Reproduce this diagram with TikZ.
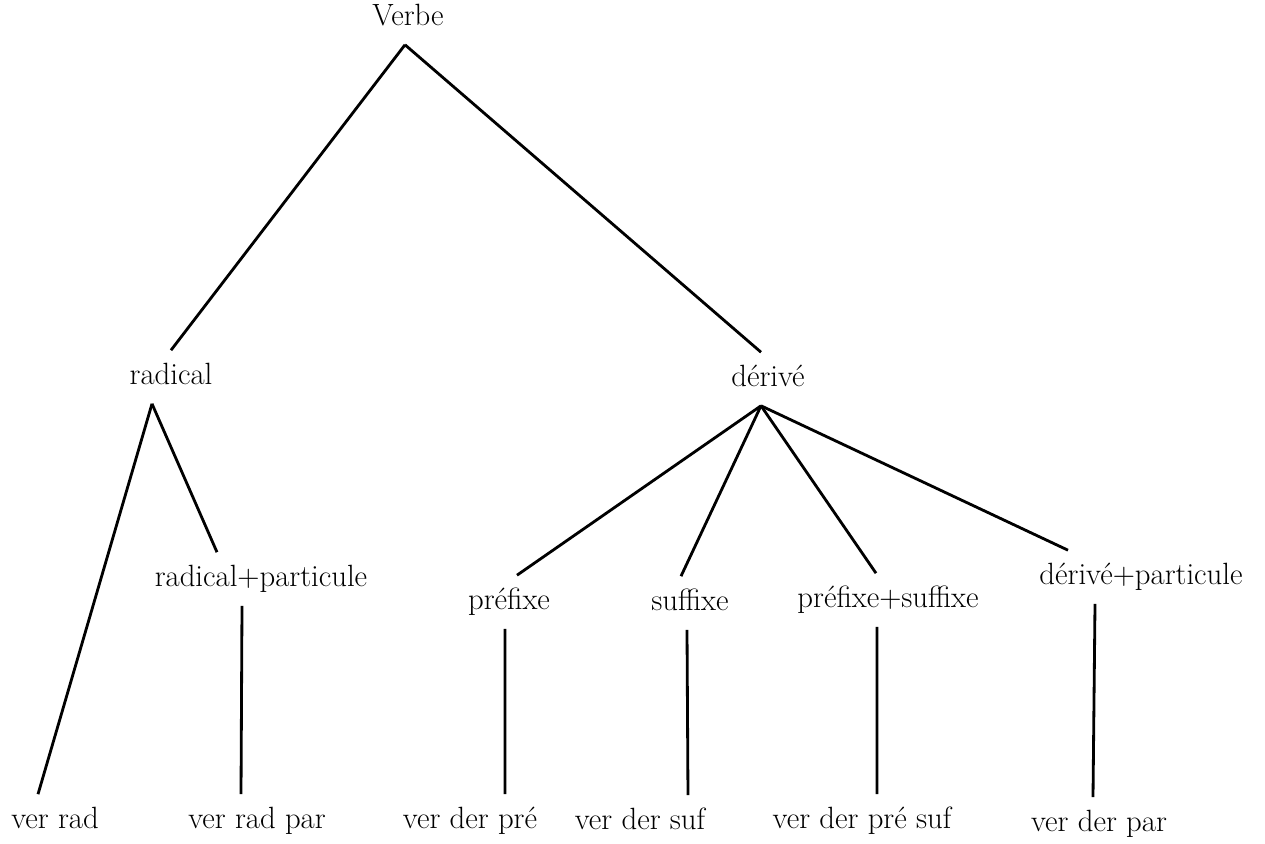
\documentclass[tikz,border=0pt]{standalone}
\usepackage{tikz}

\tikzset{
  lbl/.style={font=\fontsize{17.5}{21}\selectfont, inner sep=2pt, outer sep=5.5pt,
    text height=12pt, text depth=3.5pt},
  branch/.style={line width=1.6pt}
}

\begin{document}
\begin{tikzpicture}[x=0.02cm, y=-0.02cm]
		\useasboundingbox (0,0) rectangle (1265,844);
		% Racine
		\node [lbl] (verbe) at (408,18) {Verbe};
		% Niveau 1
		\node [lbl] (radical) at (171,377) {radical};
		\node [lbl] (derive) at (768,379) {dérivé};
		% Niveau 2
		\node [lbl] (radpart) at (261,579) {radical+particule};
		\node [lbl] (prefixe) at (509,602) {préfixe};
		\node [lbl] (suffixe) at (690,603) {suffixe};
		\node [lbl] (presuf) at (888,600) {préfixe+suffixe};
		\node [lbl] (derpart) at (1141,577) {dérivé+particule};
		% Feuilles
		\node [lbl] (verrad) at (55,821) {ver rad};
		\node [lbl] (verradpar) at (257,821) {ver rad par};
		\node [lbl] (verderpre) at (470,821) {ver der pré};
		\node [lbl] (verdersuf) at (640,822) {ver der suf};
		\node [lbl] (verderpresuf) at (862,821) {ver der pré suf};
		\node [lbl] (verderpar) at (1099,824) {ver der par};
		
		% Branches
		\draw [branch] ([xshift=-0.06cm]verbe.south) -- (radical.north);
		\draw [branch] ([xshift=-0.06cm]verbe.south) -- ([xshift=-0.14cm]derive.north);
		\draw [branch] ([xshift=-0.38cm]radical.south) -- ([xshift=-0.34cm]verrad.north);
		\draw [branch] ([xshift=-0.38cm]radical.south) -- ([xshift=-0.88cm]radpart.north);
		\draw [branch] ([xshift=-0.38cm]radpart.south) -- ([xshift=-0.32cm]verradpar.north);
		\draw [branch] ([xshift=-0.14cm]derive.south) -- ([xshift=0.16cm]prefixe.north);
		\draw [branch] ([xshift=-0.14cm]derive.south) -- ([xshift=-0.18cm]suffixe.north);
		\draw [branch] ([xshift=-0.14cm]derive.south) -- ([xshift=-0.24cm]presuf.north);
		\draw [branch] ([xshift=-0.14cm]derive.south) -- ([xshift=-1.46cm]derpart.north);
		\draw [branch] ([xshift=-0.08cm]prefixe.south) -- ([xshift=0.70cm]verderpre.north);
		\draw [branch] ([xshift=-0.06cm]suffixe.south) -- ([xshift=0.96cm]verdersuf.north);
		\draw [branch] ([xshift=-0.22cm]presuf.south) -- ([xshift=0.30cm]verderpresuf.north);
		\draw [branch] ([xshift=-0.92cm]derpart.south) -- ([xshift=-0.12cm]verderpar.north);
\end{tikzpicture}
\end{document}
